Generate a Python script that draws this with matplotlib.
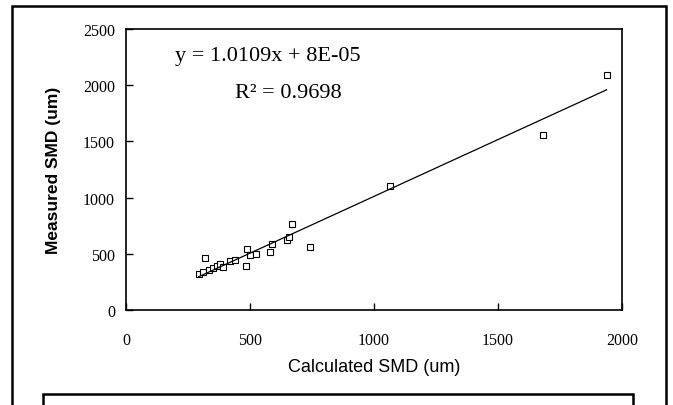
import matplotlib
matplotlib.use("Agg")
import matplotlib.pyplot as plt
from matplotlib.patches import Rectangle

# calculated vs measured SMD (um)
calc_smd = [293, 310, 320, 335, 350, 365, 380, 392, 420, 440, 484, 487, 500,
            525, 582, 590, 650, 656, 671, 742, 1064, 1683, 1938]
meas_smd = [320, 340, 460, 355, 370, 390, 410, 385, 440, 445, 390, 540, 485,
            500, 515, 590, 620, 650, 765, 560, 1100, 1560, 2088]

slope = 1.0109
intercept = 8e-05
r_squared = 0.9698

x_ticks = [0, 500, 1000, 1500, 2000]
y_ticks = [0, 500, 1000, 1500, 2000, 2500]

W, H = 673, 406
fig = plt.figure(figsize=(W / 100, H / 100), dpi=100)
ax = fig.add_axes([126 / W, 1 - 311 / H, (622 - 126) / W, (311 - 30) / H])

ax.plot(calc_smd, meas_smd, linestyle="none", marker="s", markersize=4,
        markerfacecolor="white", markeredgecolor="black", markeredgewidth=0.8)

xs = [min(calc_smd), max(calc_smd)]
ax.plot(xs, [slope * v + intercept for v in xs], color="black", linewidth=0.9)

ax.set_xlim(0, 2000)
ax.set_ylim(0, 2500)
ax.set_xticks(x_ticks)
ax.set_yticks(y_ticks)
ax.tick_params(direction="in", length=5, width=1, labelsize=11.5)
ax.tick_params(axis="x", pad=16)
ax.tick_params(axis="y", pad=8)
for lab in ax.get_xticklabels() + ax.get_yticklabels():
    lab.set_family("Liberation Serif")
for s in ax.spines.values():
    s.set_linewidth(1.2)

ax.set_xlabel("Calculated SMD (um)", fontsize=13, family="Liberation Sans",
              labelpad=7)
ax.set_ylabel("Measured SMD (um)", fontsize=12.5, family="Liberation Sans",
              fontweight="bold", labelpad=16)

ax.text(198, 2265, "y = %.4fx + 8E-05" % slope, fontsize=16,
        family="Liberation Serif", va="center", ha="left")
ax.text(440, 1935, "R² = %.4f" % r_squared, fontsize=16,
        family="Liberation Serif", va="center", ha="left")

# outer frame and the box below the chart
fig.patches.append(Rectangle((12 / W, -0.1), (666 - 12) / W, 1.1 - 7 / H,
                             transform=fig.transFigure, fill=False,
                             edgecolor="black", linewidth=1.8))
fig.patches.append(Rectangle((43 / W, -0.1), (633 - 43) / W, 0.1 + 1 - 395 / H,
                             transform=fig.transFigure, fill=False,
                             edgecolor="black", linewidth=1.8))

fig.savefig("out.png", dpi=100)
